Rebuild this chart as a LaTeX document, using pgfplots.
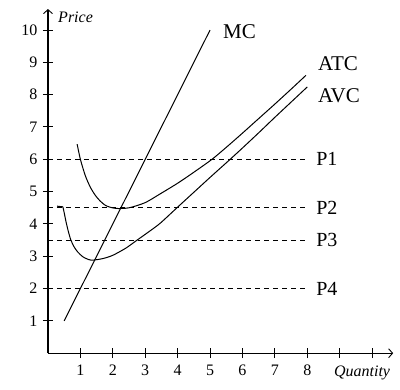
\documentclass[border=0pt]{standalone}
\usepackage{fontspec}
\setmainfont{Liberation Serif}
\usepackage{pgfplots}
\pgfplotsset{compat=1.18}
\usetikzlibrary{arrows.meta}
\begin{document}
\begin{tikzpicture}
\begin{axis}[
  x=32.4pt, y=32.3pt,
  xmin=0, xmax=10.65, ymin=0, ymax=10.65,
  axis lines=left,
  axis line style={line width=1.2pt, -{Straight Barb[length=4pt,width=9pt,line width=0.9pt]}},
  xtick={1,...,10}, ytick={1,...,10},
  xticklabels={1,2,3,4,5,6,7,8,{},{}},
  tick style={black, line width=1pt},
  major tick length=10pt, tick align=center,
  ticklabel style={font=\fontsize{16}{18}\selectfont},
  xticklabel style={yshift=-3pt},
  yticklabel style={xshift=-2pt},
  /pgf/number format/assume math mode=true,
  clip=false,
]
\path[draw=none] (axis cs:-1.48,-1.11) rectangle (axis cs:10.86,10.93);
% price levels
\addplot[black, line width=1pt, dash pattern=on 5pt off 4pt] coordinates {(0,6) (8,6)};
\addplot[black, line width=1pt, dash pattern=on 5pt off 4pt] coordinates {(0,4.5) (8,4.5)};
\addplot[black, line width=1pt, dash pattern=on 5pt off 4pt] coordinates {(0,3.5) (8,3.5)};
\addplot[black, line width=1pt, dash pattern=on 5pt off 4pt] coordinates {(0,2) (8,2)};
% MC
\addplot[black, line width=1pt] coordinates {(0.5,1) (5,10)};
% ATC
\addplot[black, line width=1pt, smooth, tension=0.45] coordinates {
(0.9,6.47) (1.0,6.0) (1.15,5.5) (1.3,5.15) (1.45,4.9) (1.6,4.72) (1.8,4.56)
(2.1,4.48) (2.5,4.5) (3.0,4.66) (3.46,4.93) (4.0,5.26) (4.5,5.6) (5.06,6.0)
(5.5,6.37) (6,6.81) (6.5,7.26) (7,7.71) (7.5,8.17) (7.96,8.6)};
% AVC
\addplot[black, line width=1pt] coordinates {(0.28,4.55) (0.46,4.53)};
\addplot[black, line width=1pt, smooth, tension=0.45] coordinates {
(0.46,4.53) (0.5,4.35) (0.55,4.1) (0.62,3.8) (0.7,3.52) (0.8,3.3) (0.92,3.13)
(1.08,2.98) (1.25,2.9) (1.39,2.88) (1.7,2.93) (2.0,3.03) (2.4,3.25) (2.75,3.5)
(3.1,3.75) (3.46,4.02) (4.0,4.52) (4.5,4.98) (5,5.44) (5.62,6.0) (6,6.35)
(6.5,6.82) (7,7.3) (7.5,7.77) (8,8.24)};
% labels
\node[anchor=west, inner sep=0pt, font=\fontsize{21}{23}\selectfont] at (axis cs:5.4,9.94) {MC};
\node[anchor=west, inner sep=0pt, font=\fontsize{21}{23}\selectfont] at (axis cs:8.33,8.95) {ATC};
\node[anchor=west, inner sep=0pt, font=\fontsize{21}{23}\selectfont] at (axis cs:8.33,7.96) {AVC};
\node[anchor=west, inner sep=0pt, font=\fontsize{20}{22}\selectfont] at (axis cs:8.27,6) {P1};
\node[anchor=west, inner sep=0pt, font=\fontsize{20}{22}\selectfont] at (axis cs:8.27,4.5) {P2};
\node[anchor=west, inner sep=0pt, font=\fontsize{20}{22}\selectfont] at (axis cs:8.27,3.5) {P3};
\node[anchor=west, inner sep=0pt, font=\fontsize{20}{22}\selectfont] at (axis cs:8.27,2) {P4};
\node[anchor=west, inner sep=0pt, font=\itshape\fontsize{16}{18}\selectfont] at (axis cs:0.31,10.4) {Price};
\node[inner sep=0pt, font=\itshape\fontsize{16}{18}\selectfont] at (axis cs:9.69,-0.6) {Quantity};
\end{axis}
\end{tikzpicture}
\end{document}
